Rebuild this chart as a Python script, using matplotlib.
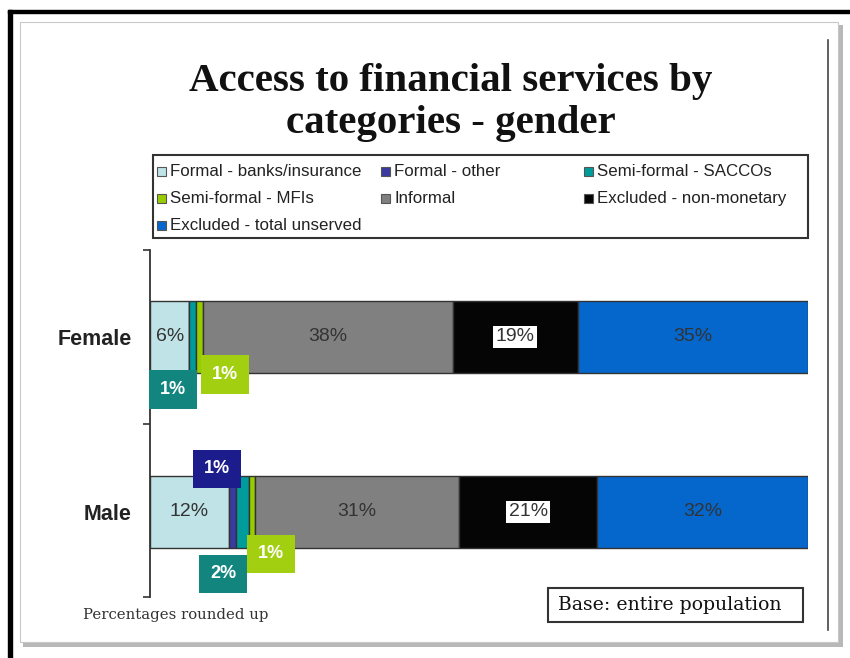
import matplotlib.pyplot as plt
from matplotlib.patches import Rectangle
import numpy as np

# Data
groups = ["Male", "Female"]
series = ["Formal - banks/insurance", "Formal - other", "Semi-formal - SACCOs",
          "Semi-formal - MFIs", "Informal", "Excluded - non-monetary",
          "Excluded - total unserved"]
male = [12, 1, 2, 1, 31, 21, 32]
female = [6, 0, 1, 1, 38, 19, 35]
colors = ["#bfe3e6", "#3a3aa0", "#009c9c", "#99cc00", "#808080", "#050505", "#0566cc"]
callout_colors = {1: "#1c1c8c", 2: "#12857f", 3: "#a2cf10"}

W, H = 850, 658
fig = plt.figure(figsize=(W / 100, H / 100), dpi=100)
fig.patch.set_facecolor("white")


def px(x0, y0, w, h):
    return [x0 / W, 1 - (y0 + h) / H, w / W, h / H]


# page frame, shadow and panel
fig.add_artist(Rectangle((8 / W, 0), 4 / W, 1 - 10 / H, transform=fig.transFigure,
                         color="black", zorder=0))
fig.add_artist(Rectangle((8 / W, 1 - 13 / H), 1 - 8 / W, 3 / H, transform=fig.transFigure,
                         color="black", zorder=0))
fig.add_artist(Rectangle((23 / W, 1 - 647 / H), 820 / W, 622 / H, transform=fig.transFigure,
                         facecolor="#b8b8b8", edgecolor="none", zorder=0))
fig.add_artist(Rectangle((20 / W, 1 - 642 / H), 818 / W, 620 / H, transform=fig.transFigure,
                         facecolor="white", edgecolor="#c8c8c8", lw=0.8, zorder=0))
fig.add_artist(plt.Line2D([828 / W, 828 / W], [1 - 40 / H, 1 - 630 / H],
                          transform=fig.transFigure, color="#444444", lw=1.2))

# title
fig.text(451 / W, 1 - 81 / H, "Access to financial services by", ha="center", va="center",
         fontsize=29.5, fontweight="bold", family="Liberation Serif", color="#111111")
fig.text(451 / W, 1 - 124 / H, "categories - gender", ha="center", va="center",
         fontsize=29.5, fontweight="bold", family="Liberation Serif", color="#111111")

# legend (drawn by hand to keep the three fixed columns)
fig.add_artist(Rectangle((153 / W, 1 - 238 / H), 655 / W, 83 / H, transform=fig.transFigure,
                         facecolor="white", edgecolor="#333333", lw=1.5))
col_x = [157, 381, 584]
row_y = [171, 198, 225]
for i, (name, c) in enumerate(zip(series, colors)):
    cx, cy = col_x[i % 3], row_y[i // 3]
    fig.add_artist(Rectangle((cx / W, 1 - (cy + 5) / H), 9 / W, 9 / H, transform=fig.transFigure,
                             facecolor=c, edgecolor="#555555", lw=0.8))
    fig.text((cx + 13) / W, 1 - cy / H, name, ha="left", va="center", fontsize=12.2,
             family="Liberation Sans", color="#222222")

# bars
ax = fig.add_axes(px(150, 250, 658, 347))
ypos = np.array([0.49, 1.5])
vals = np.array([male, female])
left = np.zeros(2)
for j, c in enumerate(colors):
    ax.barh(ypos, vals[:, j], left=left, height=0.415, color=c, edgecolor="#333333", lw=1.0)
    left += vals[:, j]

ax.set_xlim(0, 100)
ax.set_ylim(0, 2)
ax.set_xticks([])
ax.set_yticks([0, 1, 2])
ax.set_yticklabels([])
ax.tick_params(axis="y", which="major", length=5, width=1.2, direction="out", color="#333333")
ax.set_yticks(ypos, minor=True)
ax.set_yticklabels(groups, minor=True, fontsize=15.5, fontweight="bold",
                   family="Liberation Sans", color="#222222")
ax.tick_params(axis="y", which="minor", length=0, pad=13)
for s in ["top", "right", "bottom"]:
    ax.spines[s].set_visible(False)
ax.spines["left"].set_color("#333333")
ax.spines["left"].set_linewidth(1.3)
ax.patch.set_alpha(0)

# labels inside the big segments
cum = np.cumsum(vals, axis=1) - vals / 2
for g in range(2):
    for j in [0, 4, 5, 6]:
        v = vals[g, j]
        kw = dict(ha="center", va="center", fontsize=14, family="Liberation Sans",
                  color="#333333")
        if j == 5:
            kw["bbox"] = dict(boxstyle="square,pad=0.12", facecolor="white", edgecolor="none")
        ax.text(cum[g, j], ypos[g], f"{v}%", **kw)

# callout boxes for the thin segments: (group, series, dx px, dy px)
callouts = [(1, 2, -20, -53), (1, 3, 26, -38),
            (0, 1, -15, 43), (0, 2, -19, -62), (0, 3, 19, -42)]
for g, j, dx, dy in callouts:
    ax.annotate(f"{vals[g, j]}%", xy=(cum[g, j], ypos[g]), xytext=(dx, dy),
                textcoords="offset pixels", ha="center", va="center",
                fontsize=13, fontweight="bold", family="Liberation Sans", color="white",
                bbox=dict(boxstyle="square,pad=0.6", facecolor=callout_colors[j],
                          edgecolor="none"))

# footnotes
fig.text(83 / W, 1 - 615 / H, "Percentages rounded up", ha="left", va="center",
         fontsize=10.7, family="DejaVu Serif", color="#333333")
fig.add_artist(Rectangle((548 / W, 1 - 622 / H), 255 / W, 34 / H, transform=fig.transFigure,
                         facecolor="white", edgecolor="#333333", lw=1.5))
fig.text(558 / W, 1 - 605 / H, "Base: entire population", ha="left", va="center",
         fontsize=13.6, family="DejaVu Serif", color="#111111")

fig.savefig("out.png", dpi=100)
